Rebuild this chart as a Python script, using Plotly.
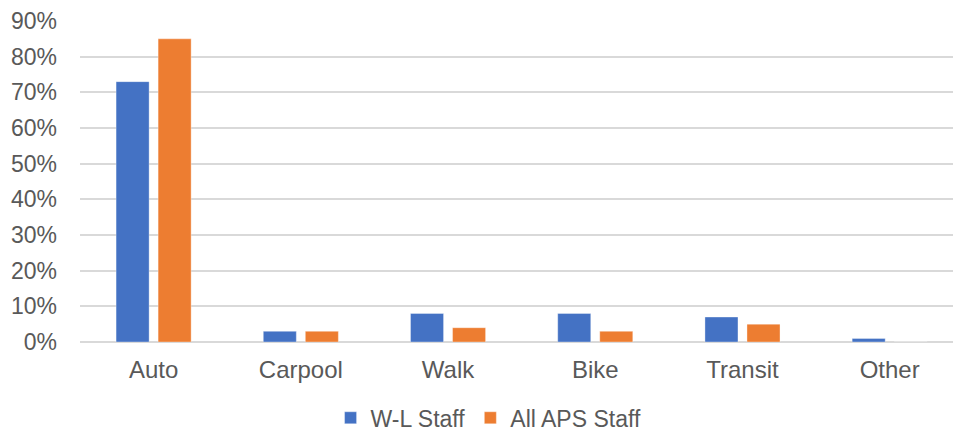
import plotly.graph_objects as go

categories = ["Auto", "Carpool", "Walk", "Bike", "Transit", "Other"]
wl_staff = [0.73, 0.03, 0.08, 0.08, 0.07, 0.01]
all_aps_staff = [0.85, 0.03, 0.04, 0.03, 0.05, 0.00]
y_ticks = [0, 0.1, 0.2, 0.3, 0.4, 0.5, 0.6, 0.7, 0.8, 0.9]
y_tick_labels = ["0%", "10%", "20%", "30%", "40%", "50%", "60%", "70%", "80%", "90%"]

FONT = "Liberation Sans, Arial, sans-serif"
GREY = "#595959"

fig = go.Figure()
fig.add_trace(go.Bar(x=categories, y=wl_staff, name="W-L Staff",
                     marker=dict(color="#4472C4", line=dict(color="rgba(255,255,255,0.35)", width=1))))
fig.add_trace(go.Bar(x=categories, y=all_aps_staff, name="All APS Staff",
                     marker=dict(color="#ED7D31", line=dict(color="rgba(255,255,255,0.35)", width=1))))

fig.update_layout(
    width=953, height=433,
    margin=dict(l=80, r=0, t=21, b=91, autoexpand=False),
    paper_bgcolor="white", plot_bgcolor="white",
    barmode="group", bargap=0.429, bargroupgap=0.214,
    font=dict(family=FONT, size=24, color=GREY),
    showlegend=True,
    legend=dict(orientation="h", x=0.468, xanchor="center", yref="container", y=0.035, yanchor="middle",
                font=dict(family=FONT, size=23, color=GREY), itemclick=False, tracegroupgap=0),
    xaxis=dict(range=[-0.5, 5.43], showgrid=False, showline=False, zeroline=False,
               tickfont=dict(family=FONT, size=24, color=GREY), ticklabelstandoff=11),
    yaxis=dict(range=[0, 0.9], tickvals=y_ticks, ticktext=y_tick_labels,
               showgrid=True, gridcolor="#D9D9D9", gridwidth=1.5,
               zeroline=True, zerolinecolor="#D9D9D9", zerolinewidth=1.5,
               showline=False, tickfont=dict(family=FONT, size=23, color=GREY),
               ticklabelstandoff=22),
)
fig.write_html("out.html")
